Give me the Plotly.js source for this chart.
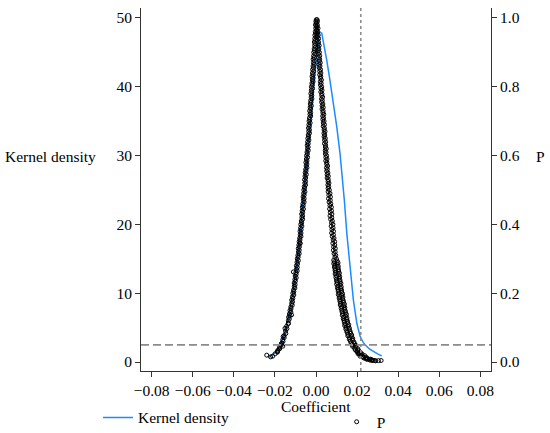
<!DOCTYPE html>
<html>
<head>
<meta charset="utf-8">
<script src="https://cdn.plot.ly/plotly-3.0.1.min.js"></script>
<style>html,body{margin:0;padding:0;background:#fff;}#chart{width:550px;height:433px;}</style>
</head>
<body>
<div id="chart"></div>
<script>
// Kernel density of placebo coefficients
const kdCoef = [-0.0232,-0.0224,-0.0210,-0.0192,-0.0176,-0.0163,-0.0151,-0.0139,-0.0127,-0.0114,-0.0102,-0.0086,-0.0070,-0.0062,-0.0047,-0.0030,-0.0015,0.0000,0.0010,0.0016,0.0028,0.0040,0.0052,0.0065,0.0077,0.0089,0.0101,0.0117,0.0125,0.0133,0.0138,0.0150,0.0166,0.0182,0.0199,0.0215,0.0227,0.0239,0.0260,0.0280,0.0300,0.0320];
const kdDensity = [0.7,0.8,1.1,1.5,2.2,3.1,4.2,5.8,7.6,9.9,12.4,16.3,21.1,23.5,28.6,34.0,39.0,43.8,46.8,48.0,47.8,46.0,43.9,41.5,39.1,36.7,34.2,30.3,27.9,25.5,23.5,18.7,13.9,9.0,5.6,3.7,3.0,2.5,1.9,1.5,1.2,0.9];

// P values of placebo estimates: [coefficient, p]
const pLeftBranch = [
[0.00055,0.995],[-0.00006,0.990],[0.00023,0.985],[-0.00027,0.980],[0.00022,0.975],[-0.00013,0.970],[0.00027,0.965],[-0.00034,0.960],[-0.00014,0.955],[-0.00055,0.950],
[0.00000,0.945],[-0.00061,0.940],[-0.00031,0.935],[-0.00082,0.930],[-0.00032,0.925],[-0.00068,0.920],[-0.00028,0.915],[-0.00089,0.910],[-0.00070,0.905],[-0.00111,0.900],
[-0.00056,0.895],[-0.00117,0.890],[-0.00087,0.885],[-0.00138,0.880],[-0.00088,0.875],[-0.00124,0.870],[-0.00084,0.865],[-0.00145,0.860],[-0.00125,0.855],[-0.00166,0.850],
[-0.00112,0.845],[-0.00173,0.840],[-0.00143,0.835],[-0.00194,0.830],[-0.00144,0.825],[-0.00180,0.820],[-0.00141,0.815],[-0.00202,0.810],[-0.00182,0.805],[-0.00223,0.800],
[-0.00168,0.795],[-0.00229,0.790],[-0.00200,0.785],[-0.00251,0.780],[-0.00201,0.775],[-0.00237,0.770],[-0.00198,0.765],[-0.00259,0.760],[-0.00239,0.755],[-0.00280,0.750],
[-0.00226,0.745],[-0.00287,0.740],[-0.00258,0.735],[-0.00309,0.730],[-0.00259,0.725],[-0.00295,0.720],[-0.00256,0.715],[-0.00317,0.710],[-0.00298,0.705],[-0.00339,0.700],
[-0.00285,0.695],[-0.00346,0.690],[-0.00317,0.685],[-0.00368,0.680],[-0.00319,0.675],[-0.00355,0.670],[-0.00316,0.665],[-0.00377,0.660],[-0.00358,0.655],[-0.00399,0.650],
[-0.00345,0.645],[-0.00407,0.640],[-0.00378,0.635],[-0.00429,0.630],[-0.00380,0.625],[-0.00416,0.620],[-0.00377,0.615],[-0.00439,0.610],[-0.00420,0.605],[-0.00461,0.600],
[-0.00407,0.595],[-0.00469,0.590],[-0.00440,0.585],[-0.00492,0.580],[-0.00443,0.575],[-0.00480,0.570],[-0.00441,0.565],[-0.00503,0.560],[-0.00484,0.555],[-0.00526,0.550],
[-0.00472,0.545],[-0.00534,0.540],[-0.00506,0.535],[-0.00558,0.530],[-0.00509,0.525],[-0.00546,0.520],[-0.00508,0.515],[-0.00570,0.510],[-0.00552,0.505],[-0.00594,0.500],
[-0.00540,0.495],[-0.00602,0.490],[-0.00574,0.485],[-0.00627,0.480],[-0.00579,0.475],[-0.00616,0.470],[-0.00578,0.465],[-0.00640,0.460],[-0.00622,0.455],[-0.00665,0.450],
[-0.00612,0.445],[-0.00675,0.440],[-0.00647,0.435],[-0.00699,0.430],[-0.00652,0.425],[-0.00690,0.420],[-0.00652,0.415],[-0.00715,0.410],[-0.00698,0.405],[-0.00741,0.400],
[-0.00688,0.395],[-0.00751,0.390],[-0.00724,0.385],[-0.00778,0.380],[-0.00731,0.375],[-0.00769,0.370],[-0.00732,0.365],[-0.00796,0.360],[-0.00779,0.355],[-0.00822,0.350],
[-0.00771,0.345],[-0.00835,0.340],[-0.00808,0.335],[-0.00862,0.330],[-0.00816,0.325],[-0.00855,0.320],[-0.00819,0.315],[-0.00883,0.310],[-0.00867,0.305],[-0.00912,0.300],
[-0.00861,0.295],[-0.00926,0.290],[-0.00901,0.285],[-0.00956,0.280],[-0.00911,0.275],[-0.00951,0.270],[-0.00916,0.265],[-0.00981,0.260],[-0.00966,0.255],[-0.01012,0.250],
[-0.00963,0.245],[-0.01029,0.240],[-0.01005,0.235],[-0.01061,0.230],[-0.01017,0.225],[-0.01059,0.220],[-0.01026,0.215],[-0.01093,0.210],[-0.01080,0.205],[-0.01128,0.200],
[-0.01080,0.195],[-0.01148,0.190],[-0.01126,0.185],[-0.01185,0.180],[-0.01144,0.175],[-0.01188,0.170],[-0.01157,0.165],[-0.01226,0.160],[-0.01216,0.155],[-0.01267,0.150],
[-0.01223,0.145],[-0.01294,0.140],[-0.01275,0.135],[-0.01337,0.130],[-0.01300,0.125],[-0.01348,0.120],
[-0.01347,0.112],[-0.01431,0.104],[-0.01416,0.097],[-0.01482,0.090],[-0.01471,0.083],[-0.01557,0.077],[-0.01548,0.071],[-0.01619,0.065],[-0.01605,0.060],[-0.01682,0.054],
[-0.01690,0.049],[-0.01769,0.044],[-0.01772,0.039],[-0.01858,0.034],[-0.01874,0.029],[-0.01990,0.024]
];
const pLeftOutliers = [
[-0.0240,0.020],[-0.0221,0.015],[-0.0211,0.017],[-0.0189,0.030],[-0.0179,0.038],[-0.0162,0.046],[-0.0167,0.054],
[-0.0160,0.074],[-0.0151,0.098],[-0.0135,0.112],[-0.0119,0.137],[-0.0110,0.262],[-0.0078,0.345]
];
const pRightBranch = [
[0.00015,0.995],[0.00071,0.990],[0.00012,0.985],[0.00067,0.980],[0.00053,0.975],[0.00098,0.970],[0.00043,0.965],[0.00084,0.960],[0.00049,0.955],[0.00110,0.950],
[0.00070,0.945],[0.00126,0.940],[0.00066,0.935],[0.00122,0.930],[0.00107,0.925],[0.00153,0.920],[0.00098,0.915],[0.00139,0.910],[0.00105,0.905],[0.00166,0.900],
[0.00126,0.895],[0.00182,0.890],[0.00122,0.885],[0.00178,0.880],[0.00163,0.875],[0.00209,0.870],[0.00154,0.865],[0.00195,0.860],[0.00160,0.855],[0.00221,0.850],
[0.00182,0.845],[0.00238,0.840],[0.00178,0.835],[0.00234,0.830],[0.00219,0.825],[0.00265,0.820],[0.00211,0.815],[0.00252,0.810],[0.00217,0.805],[0.00278,0.800],
[0.00238,0.795],[0.00294,0.790],[0.00235,0.785],[0.00291,0.780],[0.00276,0.775],[0.00322,0.770],[0.00268,0.765],[0.00309,0.760],[0.00274,0.755],[0.00335,0.750],
[0.00296,0.745],[0.00352,0.740],[0.00293,0.735],[0.00349,0.730],[0.00334,0.725],[0.00380,0.720],[0.00326,0.715],[0.00367,0.710],[0.00333,0.705],[0.00394,0.700],
[0.00355,0.695],[0.00411,0.690],[0.00352,0.685],[0.00408,0.680],[0.00394,0.675],[0.00440,0.670],[0.00386,0.665],[0.00427,0.660],[0.00393,0.655],[0.00454,0.650],
[0.00415,0.645],[0.00472,0.640],[0.00413,0.635],[0.00469,0.630],[0.00455,0.625],[0.00501,0.620],[0.00447,0.615],[0.00489,0.610],[0.00455,0.605],[0.00516,0.600],
[0.00477,0.595],[0.00534,0.590],[0.00475,0.585],[0.00532,0.580],[0.00518,0.575],[0.00565,0.570],[0.00511,0.565],[0.00553,0.560],[0.00519,0.555],[0.00581,0.550],
[0.00542,0.545],[0.00599,0.540],[0.00541,0.535],[0.00598,0.530],[0.00584,0.525],[0.00631,0.520],[0.00578,0.515],[0.00620,0.510],[0.00587,0.505],[0.00649,0.500],
[0.00590,0.495],[0.00682,0.490],[0.00624,0.485],[0.00702,0.480],[0.00609,0.475],[0.00696,0.470],[0.00638,0.465],[0.00720,0.460],[0.00677,0.455],[0.00750,0.450],
[0.00662,0.445],[0.00755,0.440],[0.00697,0.435],[0.00774,0.430],[0.00682,0.425],[0.00770,0.420],[0.00712,0.415],[0.00795,0.410],[0.00753,0.405],[0.00826,0.400],
[0.00738,0.395],[0.00831,0.390],[0.00774,0.385],[0.00853,0.380],[0.00761,0.375],[0.00849,0.370],[0.00792,0.365],[0.00876,0.360],[0.00834,0.355],[0.00907,0.350],
[0.00821,0.345],[0.00915,0.340],[0.00858,0.335],[0.00937,0.330],[0.00846,0.325],[0.00935,0.320],[0.00879,0.315],[0.00963,0.310],[0.00922,0.305],[0.00997,0.300]
];
const pRightLower = [
[0.00862,0.296],[0.01032,0.2935],[0.00893,0.291],[0.01073,0.2885],[0.00864,0.286],[0.01034,0.2835],[0.00925,0.281],[0.01085,0.2785],[0.00897,0.276],[0.01067,0.2735],
[0.00928,0.271],[0.01098,0.2685],[0.00929,0.266],[0.01099,0.2635],[0.00960,0.261],[0.01140,0.2585],[0.00931,0.256],[0.01101,0.2535],[0.00994,0.251],[0.01154,0.2485],
[0.00966,0.246],[0.01136,0.2435],[0.00998,0.241],[0.01168,0.2385],[0.01001,0.236],[0.01171,0.2335],[0.01033,0.231],[0.01213,0.2285],[0.01005,0.226],[0.01175,0.2235],
[0.01069,0.221],[0.01229,0.2185],[0.01042,0.216],[0.01212,0.2135],[0.01076,0.211],[0.01246,0.2085],[0.01079,0.206],[0.01249,0.2035],[0.01114,0.201],[0.01294,0.1985],
[0.01087,0.196],[0.01257,0.1935],[0.01152,0.191],[0.01312,0.1885],[0.01127,0.186],[0.01297,0.1835],[0.01162,0.181],[0.01332,0.1785],[0.01168,0.176],[0.01338,0.1735],
[0.01204,0.171],[0.01384,0.1685],[0.01180,0.166],[0.01350,0.1635],[0.01245,0.161],[0.01405,0.1585],[0.01222,0.156],[0.01392,0.1535],[0.01260,0.151],[0.01430,0.1485],
[0.01267,0.146],[0.01437,0.1435],[0.01303,0.141],[0.01483,0.1385],[0.01280,0.136],[0.01450,0.1335],[0.01347,0.131],[0.01507,0.1285],[0.01326,0.126],[0.01496,0.1235],
[0.01365,0.121],[0.01535,0.1185],[0.01374,0.116],[0.01544,0.1135],[0.01414,0.111],[0.01594,0.1085],[0.01396,0.106],[0.01566,0.1035],[0.01467,0.101],[0.01627,0.0985],
[0.01452,0.096],[0.01622,0.0935],[0.01496,0.091],[0.01666,0.0885],[0.01513,0.086],[0.01683,0.0835],[0.01560,0.081],[0.01740,0.0785],[0.01549,0.076],[0.01719,0.0735],
[0.01629,0.071],[0.01789,0.0685],[0.01622,0.066],[0.01792,0.0635],[0.01676,0.061],[0.01846,0.0585],[0.01704,0.056],[0.01874,0.0535],[0.01763,0.051],[0.01943,0.0485],
[0.01776,0.046],[0.01946,0.0435],[0.01879,0.041],[0.02039,0.0385],[0.01904,0.036],[0.02074,0.0335],[0.01990,0.031],[0.02160,0.0285],[0.02075,0.026],[0.02245,0.0235],
[0.02193,0.021],[0.02373,0.0185],[0.02279,0.016],[0.02449,0.0135],[0.02495,0.011],[0.02655,0.0085],[0.02588,0.008],[0.02758,0.0055],[0.02729,0.006],[0.02899,0.0035]
];
const pRightTail = [
[0.0288,0.0040],[0.0304,0.0040],[0.0317,0.0045],[0.0262,0.0060],[0.0245,0.0090],[0.0232,0.0120],[0.0215,0.0170],[0.0205,0.0240],
[0.0200,0.0300],[0.0210,0.0260],[0.0220,0.0220],[0.0228,0.0150],[0.0240,0.0110],[0.0250,0.0080],[0.0270,0.0050],[0.0280,0.0045]
];

const trueCoef = 0.0218;     // vertical reference line
const pThreshold = 0.05;     // horizontal reference line (right axis)
const xTicks = [-0.08,-0.06,-0.04,-0.02,0,0.02,0.04,0.06,0.08];
const yTicks = [0,10,20,30,40,50];
const y2Ticks = [0,0.2,0.4,0.6,0.8,1.0];

const allP = pLeftBranch.concat(pLeftOutliers, pRightBranch, pRightLower, pRightTail);

const FONT = 'Liberation Serif';
const FS = 15.5;

const traces = [
  {
    x: kdCoef, y: kdDensity, type: 'scatter', mode: 'lines',
    name: 'Kernel density', line: {color: '#1a8cff', width: 1.5},
    xaxis: 'x', yaxis: 'y', legend: 'legend', hoverinfo: 'skip'
  },
  {
    x: allP.map(d => d[0]), y: allP.map(d => d[1]), type: 'scatter', mode: 'markers',
    name: 'P', yaxis: 'y2', legend: 'legend2',
    marker: {symbol: 'circle-open', size: 4, color: '#000', line: {width: 1, color: '#000'}},
    hoverinfo: 'skip'
  }
];

const axisCommon = {
  showgrid: false, zeroline: false, showline: true, linecolor: '#333', linewidth: 1,
  ticks: 'outside', ticklen: 5, tickwidth: 1, tickcolor: '#333',
  tickfont: {family: FONT, size: FS, color: '#000'}
};

const layout = {
  width: 550, height: 433,
  margin: {l: 141, r: 59, t: 8, b: 62, autoexpand: false},
  paper_bgcolor: '#fff', plot_bgcolor: '#fff',
  font: {family: FONT, size: FS, color: '#000'},
  xaxis: Object.assign({}, axisCommon, {range: [-0.0852, 0.0852], tickvals: xTicks, tickformat: '.2f'}),
  yaxis: Object.assign({}, axisCommon, {range: [-1.3, 51.45], tickvals: yTicks}),
  yaxis2: Object.assign({}, axisCommon, {range: [-0.026, 1.029], tickvals: y2Ticks, tickformat: '.1f', overlaying: 'y', side: 'right'}),
  showlegend: true,
  legend: {x: -0.123, xanchor: 'left', y: -0.129, yanchor: 'middle', orientation: 'h', bgcolor: 'rgba(0,0,0,0)', font: {family: FONT, size: FS, color: '#000'}},
  legend2: {x: 0.559, xanchor: 'left', y: -0.141, yanchor: 'middle', orientation: 'h', bgcolor: 'rgba(0,0,0,0)', font: {family: FONT, size: FS, color: '#000'}},
  shapes: [
    {type: 'line', xref: 'x', yref: 'paper', x0: trueCoef, x1: trueCoef, y0: 0, y1: 1,
     line: {color: '#8c8c8c', width: 1.6, dash: '3px,3px'}},
    {type: 'line', xref: 'paper', yref: 'y2', x0: 0, x1: 1, y0: pThreshold, y1: pThreshold,
     line: {color: '#8c8c8c', width: 1.6, dash: '8px,4px'}}
  ],
  annotations: [
    {text: 'Kernel density', xref: 'paper', yref: 'paper', x: -0.26, y: 0.59, xanchor: 'center', yanchor: 'middle', showarrow: false, font: {family: FONT, size: FS, color: '#000'}},
    {text: 'P', xref: 'paper', yref: 'paper', x: 1.14, y: 0.59, xanchor: 'center', yanchor: 'middle', showarrow: false, font: {family: FONT, size: FS, color: '#000'}},
    {text: 'Coefficient', xref: 'paper', yref: 'paper', x: 0.5, y: -0.099, xanchor: 'center', yanchor: 'middle', showarrow: false, font: {family: FONT, size: FS, color: '#000'}}
  ]
};

Plotly.newPlot('chart', traces, layout, {displayModeBar: false, staticPlot: true});
</script>
</body>
</html>
